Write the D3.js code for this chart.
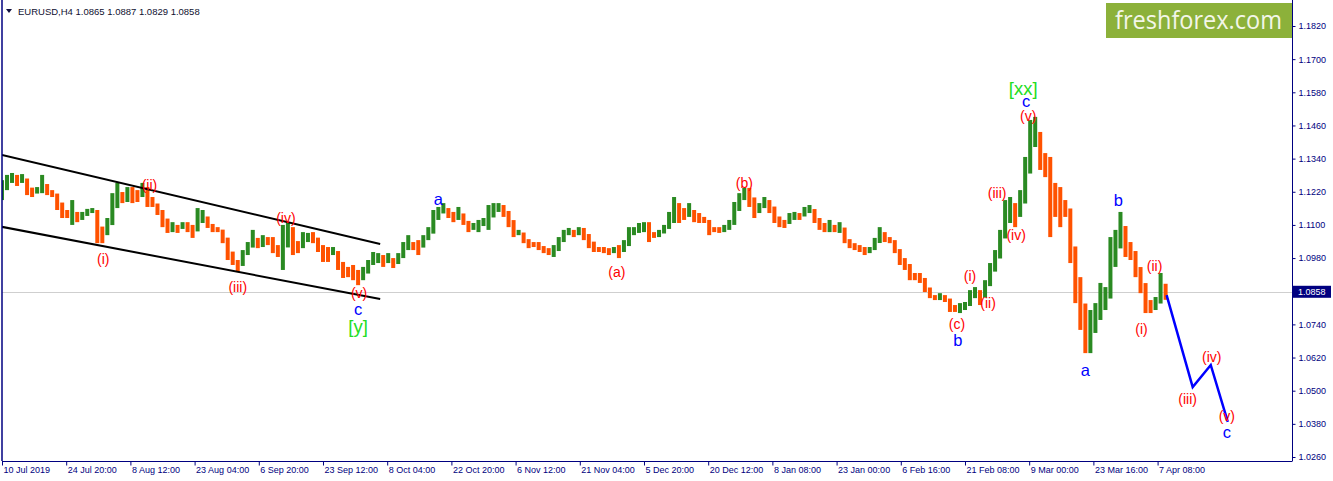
<!DOCTYPE html>
<html>
<head>
<meta charset="utf-8">
<script src="https://cdn.jsdelivr.net/npm/d3@7"></script>
<style>
  html, body { margin: 0; padding: 0; background: #ffffff; }
  svg { display: block; }
</style>
</head>
<body>
<div id="chart"></div>
<script>
// ---------------- DATA ----------------
const symbolTitle = "EURUSD,H4";
const lastOHLC = [1.0865, 1.0887, 1.0829, 1.0858];
const lastPrice = 1.0858;

// x-axis tick labels (one every 64 H4 bars)
const timeLabels = ["10 Jul 2019", "24 Jul 20:00", "8 Aug 12:00", "23 Aug 04:00", "6 Sep 20:00",
  "23 Sep 12:00", "8 Oct 04:00", "22 Oct 20:00", "6 Nov 12:00", "21 Nov 04:00", "5 Dec 20:00",
  "20 Dec 12:00", "8 Jan 08:00", "23 Jan 00:00", "6 Feb 16:00", "21 Feb 08:00", "9 Mar 00:00",
  "23 Mar 16:00", "7 Apr 08:00"];
const barsPerLabel = 64;

// price-axis tick values
const priceTicks = [1.1820, 1.1700, 1.1580, 1.1460, 1.1340, 1.1220, 1.1100, 1.0980,
  1.0740, 1.0620, 1.0500, 1.0380, 1.0260];

// price samples: each sample summarises 5 consecutive H4 bars (high / low)
const barsPerSample = 5;
const highs = [
 1.1262,1.1281,1.1288,1.1281,1.1284,1.1262,1.1226,1.1237,1.1281,1.1244,
 1.1226,1.1208,1.1161,1.1154,1.1190,1.1147,1.1147,1.1158,1.1161,1.1154,
 1.1092,1.1125,1.1215,1.1252,1.1219,1.1237,1.1237,1.1226,1.1252,1.1237,
 1.1190,1.1165,1.1154,1.1110,1.1110,1.1100,1.1110,1.1110,1.1100,1.1161,
 1.1154,1.1118,1.1100,1.1092,1.1074,1.1034,1.0984,1.0973,1.1009,1.1038,
 1.1082,1.1053,1.1063,1.1056,1.1056,1.1020,1.1100,1.1110,1.1092,1.1034,
 1.1074,1.1071,1.1074,1.1027,1.1027,1.1020,1.1020,1.0991,1.0966,1.0948,
 1.0955,1.0937,1.0948,1.0973,1.1002,1.0998,1.0991,1.0998,1.0973,1.0998,
 1.1038,1.1063,1.1038,1.1045,1.1063,1.1092,1.1154,1.1165,1.1179,1.1161,
 1.1147,1.1165,1.1129,1.1110,1.1107,1.1118,1.1125,1.1172,1.1179,1.1179,
 1.1172,1.1143,1.1089,1.1082,1.1063,1.1045,1.1038,1.1038,1.1020,1.1016,
 1.1027,1.1056,1.1082,1.1089,1.1082,1.1092,1.1089,1.1063,1.1027,1.1020,
 1.1020,1.1016,1.1020,1.1027,1.1045,1.1092,1.1092,1.1107,1.1110,1.1110,
 1.1074,1.1082,1.1100,1.1147,1.1201,1.1179,1.1161,1.1179,1.1154,1.1143,
 1.1129,1.1118,1.1092,1.1092,1.1100,1.1118,1.1183,1.1215,1.1234,1.1234,
 1.1179,1.1179,1.1201,1.1190,1.1154,1.1129,1.1118,1.1143,1.1147,1.1143,
 1.1165,1.1172,1.1143,1.1107,1.1107,1.1118,1.1100,1.1110,1.1063,1.1038,
 1.1034,1.1027,1.1020,1.1020,1.1053,1.1092,1.1074,1.1056,1.1027,1.0984,
 1.0980,1.0948,1.0926,1.0926,1.0890,1.0857,1.0846,1.0853,1.0846,1.0821,
 1.0810,1.0817,1.0821,1.0864,1.0875,1.0864,1.0900,1.0962,1.1009,1.1082,
 1.1190,1.1201,1.1179,1.1226,1.1346,1.1480,1.1491,1.1407,1.1360,1.1346,
 1.1252,1.1237,1.1190,1.1082,1.0937,1.0911,1.0767,1.0792,1.0817,1.0890,
 1.0875,1.1056,1.1082,1.1147,1.1082,1.1038,1.0984,1.0926,1.0864,1.0828,
 1.0839,1.0926,1.0887
];
const lows = [
 1.1190,1.1241,1.1252,1.1241,1.1252,1.1208,1.1201,1.1215,1.1215,1.1208,
 1.1201,1.1154,1.1125,1.1125,1.1100,1.1110,1.1118,1.1136,1.1143,1.1034,
 1.1034,1.1074,1.1107,1.1179,1.1179,1.1183,1.1179,1.1183,1.1201,1.1165,
 1.1165,1.1136,1.1092,1.1071,1.1074,1.1071,1.1089,1.1074,1.1053,1.1092,
 1.1107,1.1089,1.1074,1.1074,1.1034,1.0973,1.0955,1.0930,1.0973,1.0998,
 1.1020,1.1016,1.1020,1.1027,1.0998,1.0984,1.0937,1.1071,1.0991,1.0998,
 1.1034,1.1038,1.1034,1.1002,1.0966,1.0966,1.0991,1.0937,1.0908,1.0911,
 1.0900,1.0882,1.0900,1.0948,1.0955,1.0962,1.0948,1.0962,1.0944,1.0962,
 1.0998,1.1009,1.1009,1.0991,1.1027,1.1045,1.1107,1.1118,1.1143,1.1125,
 1.1110,1.1118,1.1100,1.1074,1.1082,1.1074,1.1100,1.1082,1.1143,1.1147,
 1.1129,1.1092,1.1056,1.1063,1.1034,1.1016,1.1020,1.1009,1.0998,1.0991,
 1.0984,1.1020,1.1056,1.1063,1.1056,1.1063,1.1045,1.1016,1.1002,1.1002,
 1.0998,1.0991,1.0998,1.0980,1.1002,1.1063,1.1063,1.1071,1.1074,1.1038,
 1.1053,1.1056,1.1071,1.1100,1.1107,1.1107,1.1118,1.1129,1.1110,1.1107,
 1.1107,1.1063,1.1074,1.1071,1.1074,1.1082,1.1118,1.1179,1.1190,1.1165,
 1.1125,1.1143,1.1179,1.1143,1.1107,1.1092,1.1089,1.1110,1.1118,1.1118,
 1.1136,1.1143,1.1107,1.1082,1.1074,1.1074,1.1074,1.1071,1.1034,1.1016,
 1.1009,1.1002,1.0991,1.0998,1.1016,1.1056,1.1038,1.1034,1.0998,1.0955,
 1.0937,1.0900,1.0900,1.0890,1.0857,1.0835,1.0828,1.0828,1.0821,1.0785,
 1.0785,1.0781,1.0792,1.0817,1.0835,1.0810,1.0857,1.0900,1.0948,1.1020,
 1.1107,1.1107,1.1092,1.1129,1.1226,1.1364,1.1382,1.1299,1.1273,1.1056,
 1.1129,1.1092,1.1129,1.0962,1.0817,1.0720,1.0636,1.0636,1.0709,1.0756,
 1.0792,1.0890,1.0948,1.1045,1.0984,1.0973,1.0911,1.0853,1.0781,1.0781,
 1.0792,1.0839,1.0829
];

// trend channel (bar index, price)
const channelUpper = [[0, 1.1353], [377, 1.1031]];
const channelLower = [[0, 1.1093], [377, 1.0832]];

// projected wave path (bar index, price)
const projection = [[1161, 1.0846], [1187, 1.0513], [1205, 1.0593], [1222, 1.0387]];

// wave labels: [bar index, price, text, kind]
const waveLabels = [
  [101, 1.0977, "(i)", "minor"], [147, 1.1244, "(ii)", "minor"], [235, 1.0875, "(iii)", "minor"],
  [283, 1.1125, "(iv)", "minor"], [356, 1.0853, "(v)", "minor"], [355, 1.0797, "c", "inter"],
  [355, 1.0733, "[y]", "major"], [435, 1.1194, "a", "inter"], [613, 1.0930, "(a)", "minor"],
  [740, 1.1252, "(b)", "minor"], [952, 1.0741, "(c)", "minor"], [953, 1.0683, "b", "inter"],
  [965, 1.0915, "(i)", "minor"], [983, 1.0817, "(ii)", "minor"], [992, 1.1215, "(iii)", "minor"],
  [1011, 1.1063, "(iv)", "minor"], [1023, 1.1496, "(v)", "minor"], [1021, 1.1548, "c", "inter"],
  [1018, 1.1595, "[xx]", "major"], [1080, 1.0575, "a", "inter"], [1113, 1.1190, "b", "inter"],
  [1136, 1.0723, "(i)", "minor"], [1149, 1.0951, "(ii)", "minor"], [1182, 1.0470, "(iii)", "minor"],
  [1206, 1.0622, "(iv)", "minor"], [1221, 1.0408, "(v)", "minor"], [1221, 1.0350, "c", "inter"]
];

// ---------------- DRAW ----------------
const W = 1333, H = 481;
const plotL = 2, plotR = 1292, plotT = 0, plotB = 461;
const axisColor = "#000080";
const upColor = "#2a8a22", downColor = "#ff5200";

const svg = d3.select("#chart").append("svg")
  .attr("width", W).attr("height", H)
  .style("font-family", "'Liberation Sans', Arial, sans-serif");

const x = d3.scaleLinear().domain([0, 1286]).range([plotL, plotR]);
const y = d3.scaleLinear().domain([1.0260, 1.1820]).range([457, 26]);

svg.append("defs").append("clipPath").attr("id", "plotclip")
  .append("rect").attr("x", plotL).attr("y", plotT).attr("width", plotR - plotL).attr("height", plotB - plotT);

const plot = svg.append("g").attr("clip-path", "url(#plotclip)");

// current price line
plot.append("line")
  .attr("x1", plotL).attr("x2", plotR)
  .attr("y1", Math.round(y(lastPrice)) + 0.5).attr("y2", Math.round(y(lastPrice)) + 0.5)
  .attr("stroke", "#cfcfcf").attr("stroke-width", 1);

// bars: each sample drawn from its high to its low, joined to the previous sample's midpoint
const samples = highs.map((h, i) => ({ i, h, l: lows[i], mid: (h + lows[i]) / 2 }));
samples.forEach((d, i) => {
  const prev = i ? samples[i - 1].mid : d.mid;
  d.top = Math.max(d.h, prev);
  d.bot = Math.min(d.l, prev);
  d.up = d.mid >= prev;
});
const bw = 4;
plot.append("g").selectAll("rect").data(samples).enter().append("rect")
  .attr("x", d => x(d.i * barsPerSample) - bw / 2)
  .attr("width", bw)
  .attr("y", d => y(d.top))
  .attr("height", d => Math.max(1, y(d.bot) - y(d.top)))
  .attr("fill", d => d.up ? upColor : downColor);

// channel
const line = d3.line().x(d => x(d[0])).y(d => y(d[1]));
[channelUpper, channelLower].forEach(c => {
  plot.append("path").attr("d", line(c)).attr("fill", "none")
    .attr("stroke", "#000").attr("stroke-width", 2);
});

// projection
plot.append("path").attr("d", line(projection)).attr("fill", "none")
  .attr("stroke", "#0000ff").attr("stroke-width", 2.5);

// wave labels
const labelStyle = {
  minor: { color: "#ff0000", size: 14 },
  inter: { color: "#0000ff", size: 16.5 },
  major: { color: "#22dd22", size: 18.5 }
};
svg.append("g").selectAll("text").data(waveLabels).enter().append("text")
  .attr("x", d => x(d[0]))
  .attr("y", d => y(d[1]))
  .attr("text-anchor", "middle")
  .attr("dominant-baseline", "central")
  .attr("fill", d => labelStyle[d[3]].color)
  .attr("font-size", d => labelStyle[d[3]].size)
  .text(d => d[2]);

// frame
svg.append("line").attr("x1", plotL).attr("x2", plotL).attr("y1", 0).attr("y2", plotB)
  .attr("stroke", axisColor).attr("stroke-width", 1.5);

// y axis
const yAxis = d3.axisRight(y).tickValues(priceTicks).tickSize(3).tickFormat(d3.format(".4f"));
const gy = svg.append("g").attr("transform", `translate(${plotR + 0.5},0)`).call(yAxis);
gy.select(".domain").remove();
gy.selectAll("line").attr("stroke", axisColor);
gy.selectAll("text").attr("fill", axisColor).attr("font-size", 9).attr("x", 6)
  .attr("font-family", "'Liberation Sans', Arial, sans-serif");
svg.append("line").attr("x1", plotR + 0.5).attr("x2", plotR + 0.5).attr("y1", 0).attr("y2", plotB)
  .attr("stroke", axisColor).attr("stroke-width", 1);

// x axis
const tickIdx = timeLabels.map((_, i) => i * barsPerLabel);
const xAxis = d3.axisBottom(x).tickValues(tickIdx).tickSize(4).tickFormat((d, i) => timeLabels[i]);
const gx = svg.append("g").attr("transform", `translate(0,${plotB + 0.5})`).call(xAxis);
gx.select(".domain").remove();
gx.selectAll("line").attr("stroke", axisColor);
gx.selectAll("text").attr("fill", axisColor).attr("font-size", 9)
  .attr("text-anchor", "start").attr("dx", 1).attr("y", 5)
  .attr("font-family", "'Liberation Sans', Arial, sans-serif");
svg.append("line").attr("x1", plotL).attr("x2", plotR + 0.5).attr("y1", plotB + 0.5).attr("y2", plotB + 0.5)
  .attr("stroke", axisColor).attr("stroke-width", 1);

// current price box
const py = y(lastPrice);
svg.append("rect").attr("x", plotR + 1).attr("y", py - 6).attr("width", 38).attr("height", 12)
  .attr("fill", "#000080");
svg.append("text").attr("x", plotR + 6).attr("y", py).attr("dominant-baseline", "central")
  .attr("fill", "#ffffff").attr("font-size", 9).text(d3.format(".4f")(lastPrice));

// header
svg.append("path").attr("d", "M6,9 L12,9 L9,13 Z").attr("fill", "#101040");
svg.append("text").attr("x", 18).attr("y", 11).attr("dominant-baseline", "central")
  .attr("fill", "#101030").attr("font-size", 9.5)
  .text(symbolTitle + "  " + lastOHLC.map(d3.format(".4f")).join(" "));

// logo
svg.append("rect").attr("x", 1106).attr("y", 3).attr("width", 186).attr("height", 35)
  .attr("fill", "#8cb13a");
svg.append("text").attr("x", 1115).attr("y", 29)
  .attr("fill", "#f3f6e8").attr("font-size", 25)
  .attr("font-family", "'Open Sans', sans-serif")
  .attr("textLength", 167).attr("lengthAdjust", "spacingAndGlyphs")
  .text("freshforex.com");
</script>
</body>
</html>
